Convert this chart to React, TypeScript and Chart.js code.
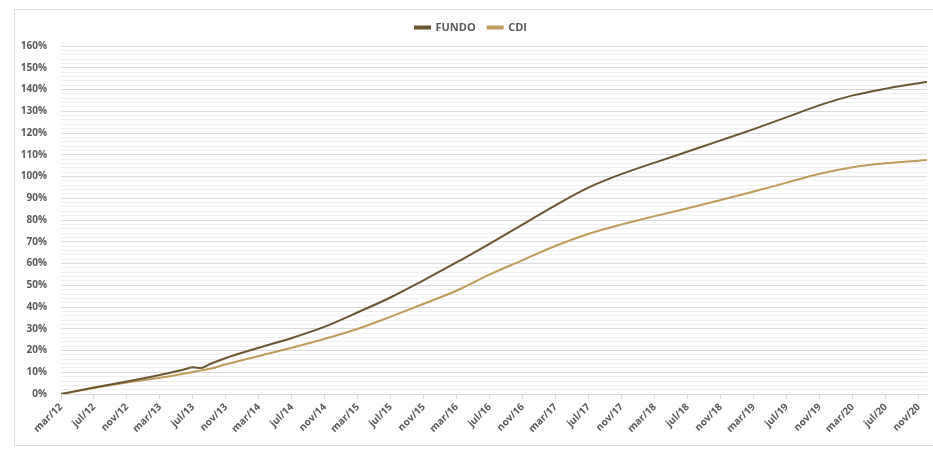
import React, { useEffect, useRef } from "react";
import { Chart, registerables } from "chart.js";

Chart.register(...registerables);

// month index counted from mar/12 (0) to dec/20 (105)
const pointMonths = [0, 4, 8, 12, 14, 15, 16, 17, 18, 20, 24, 28, 32, 36, 40, 44, 48, 52, 56, 60, 64, 68, 72, 76, 80, 84, 88, 92, 96, 100, 104, 105];
const fundo = [0, 3.0, 5.8, 8.8, 10.5, 11.4, 12.3, 12.0, 13.7, 16.6, 21.3, 25.8, 31.0, 37.6, 44.5, 52.4, 60.6, 69.2, 78.0, 86.9, 95.0, 101.2, 106.4, 111.5, 116.6, 121.8, 127.3, 132.8, 137.3, 140.4, 142.9, 143.5];
const cdi = [0, 2.8, 5.3, 7.5, 8.8, 9.5, 10.2, 10.9, 11.6, 13.7, 17.5, 21.3, 25.4, 30.0, 35.6, 41.5, 47.6, 55.0, 61.6, 68.2, 73.7, 78.0, 81.8, 85.4, 89.2, 93.1, 97.2, 101.3, 104.3, 106.1, 107.3, 107.6];

const tickLabels = [
  "mar/12", "jul/12", "nov/12", "mar/13", "jul/13", "nov/13", "mar/14", "jul/14", "nov/14",
  "mar/15", "jul/15", "nov/15", "mar/16", "jul/16", "nov/16", "mar/17", "jul/17", "nov/17",
  "mar/18", "jul/18", "nov/18", "mar/19", "jul/19", "nov/19", "mar/20", "jul/20", "nov/20",
];
const tickStep = 4;

const FUNDO_COLOR = "#6b5634";
const CDI_COLOR = "#bf9c5c";
const TEXT = "#595959";
const FAMILY = "'Open Sans', 'Noto Sans', sans-serif";
const FONT = { family: FAMILY, size: 10, weight: "bold" as const };
const LEGEND_FONT = { family: FAMILY, size: 11, weight: "bold" as const };

const legendSpacer = {
  id: "legendSpacer",
  beforeInit(chart: any) {
    const legend = chart.legend;
    if (!legend) return;
    const origFit = legend.fit;
    legend.fit = function () {
      origFit.call(this);
      this.height += 3;
    };
  },
};

export default function App() {
  const ref = useRef<HTMLCanvasElement | null>(null);

  useEffect(() => {
    document.body.style.overflow = "hidden";
    if (!ref.current) return;
    const chart = new Chart(ref.current, {
      type: "line",
      plugins: [legendSpacer],
      data: {
        datasets: [
          {
            label: "FUNDO",
            data: pointMonths.map((m, i) => ({ x: m, y: fundo[i] })),
            borderColor: FUNDO_COLOR,
            backgroundColor: FUNDO_COLOR,
            borderWidth: 2,
            pointRadius: 0,
            cubicInterpolationMode: "monotone",
          },
          {
            label: "CDI",
            data: pointMonths.map((m, i) => ({ x: m, y: cdi[i] })),
            borderColor: CDI_COLOR,
            backgroundColor: CDI_COLOR,
            borderWidth: 2,
            pointRadius: 0,
            cubicInterpolationMode: "monotone",
          },
        ],
      },
      options: {
        animation: false,
        responsive: true,
        maintainAspectRatio: false,
        layout: { padding: { top: 0, right: 8, bottom: 8, left: 0 } },
        plugins: {
          legend: {
            position: "top",
            labels: {
              boxWidth: 15,
              boxHeight: 2,
              color: TEXT,
              font: LEGEND_FONT,
              padding: 12,
            },
          },
          tooltip: { enabled: false },
        },
        scales: {
          x: {
            type: "linear",
            min: 0,
            max: 105,
            afterBuildTicks: (s: any) => {
              s.ticks = tickLabels.map((_, i) => ({ value: i * tickStep }));
            },
            ticks: {
              autoSkip: false,
              maxRotation: 45,
              minRotation: 45,
              color: TEXT,
              font: FONT,
              padding: 2,
              callback: (v: any) => tickLabels[Math.round(Number(v) / tickStep)] ?? "",
            },
            grid: {
              drawOnChartArea: false,
              drawTicks: true,
              tickLength: 5,
              color: "#d9d9d9",
            },
            border: { color: "#d9d9d9" },
          },
          y: {
            min: 0,
            max: 160,
            afterFit: (s: any) => {
              s.width = 46;
            },
            ticks: {
              stepSize: 2,
              autoSkip: false,
              color: TEXT,
              font: FONT,
              padding: 14,
              callback: (v: any) => (Number(v) % 10 === 0 ? v + "%" : ""),
            },
            grid: {
              drawTicks: false,
              color: (ctx: any) => (ctx.tick && ctx.tick.value % 10 === 0 ? "#d9d9d9" : "#f0f0f0"),
              lineWidth: 1,
            },
            border: { display: false },
          },
        },
      },
    });
    return () => chart.destroy();
  }, []);

  return (
    <div
      style={{
        position: "absolute",
        left: 14,
        top: 9,
        width: 922,
        height: 437,
        border: "1px solid #d9d9d9",
        boxSizing: "border-box",
        background: "#fff",
      }}
    >
      <canvas ref={ref} />
    </div>
  );
}
